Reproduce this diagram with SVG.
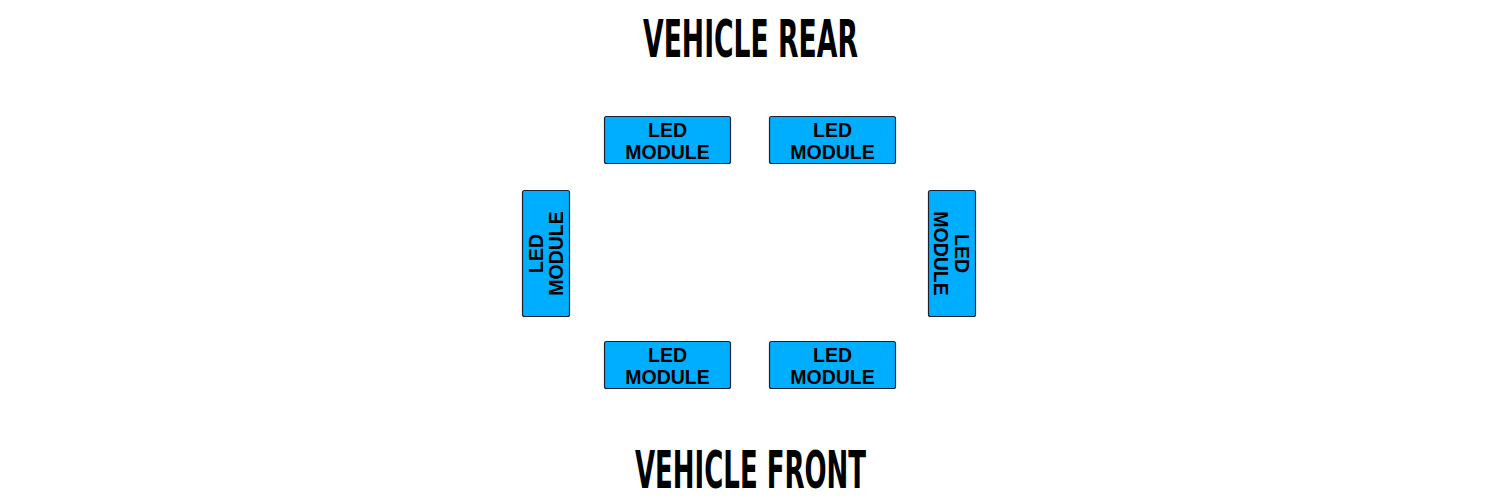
<svg xmlns="http://www.w3.org/2000/svg" width="1500" height="500" viewBox="0 0 1500 500">
<style>
.title{font-family:"DejaVu Sans Condensed","DejaVu Sans",sans-serif;font-weight:bold;font-size:51px;fill:#000;text-anchor:middle}
.box{fill:#00AEFF;stroke:#1b2030;stroke-width:1.2}
.lbl{font-family:"Liberation Sans",Arial,sans-serif;font-weight:bold;font-size:19.5px;fill:#000;text-anchor:middle}
</style>
<rect width="1500" height="500" fill="#fff"/>
<g id="title-rear"><text class="title" x="750.5" y="57" textLength="215" lengthAdjust="spacingAndGlyphs">VEHICLE REAR</text></g>
<g id="title-front"><text class="title" x="750.5" y="488" textLength="231" lengthAdjust="spacingAndGlyphs">VEHICLE FRONT</text></g>
<g id="connectors"></g>
<g id="led-top-left">
<rect class="box" x="604.5" y="116.5" width="126" height="47" rx="2"/>
<text class="lbl" x="667.5" y="137">LED</text><text class="lbl" x="667.5" y="159">MODULE</text>
</g>
<g id="led-top-right">
<rect class="box" x="769.5" y="116.5" width="126" height="47" rx="2"/>
<text class="lbl" x="832.5" y="137">LED</text><text class="lbl" x="832.5" y="159">MODULE</text>
</g>
<g id="led-bottom-left">
<rect class="box" x="604.5" y="341.5" width="126" height="47" rx="2"/>
<text class="lbl" x="667.5" y="362">LED</text><text class="lbl" x="667.5" y="384">MODULE</text>
</g>
<g id="led-bottom-right">
<rect class="box" x="769.5" y="341.5" width="126" height="47" rx="2"/>
<text class="lbl" x="832.5" y="362">LED</text><text class="lbl" x="832.5" y="384">MODULE</text>
</g>
<g id="led-left">
<rect class="box" x="522.5" y="190.5" width="47" height="126" rx="2"/>
<g transform="translate(545.5,253.5) rotate(-90)">
<text class="lbl" x="0" y="-3">LED</text><text class="lbl" x="0" y="17">MODULE</text>
</g>
</g>
<g id="led-right">
<rect class="box" x="928.5" y="190.5" width="47" height="126" rx="2"/>
<g transform="translate(951.5,253.5) rotate(90)">
<text class="lbl" x="0" y="-3">LED</text><text class="lbl" x="0" y="18">MODULE</text>
</g>
</g>
</svg>
